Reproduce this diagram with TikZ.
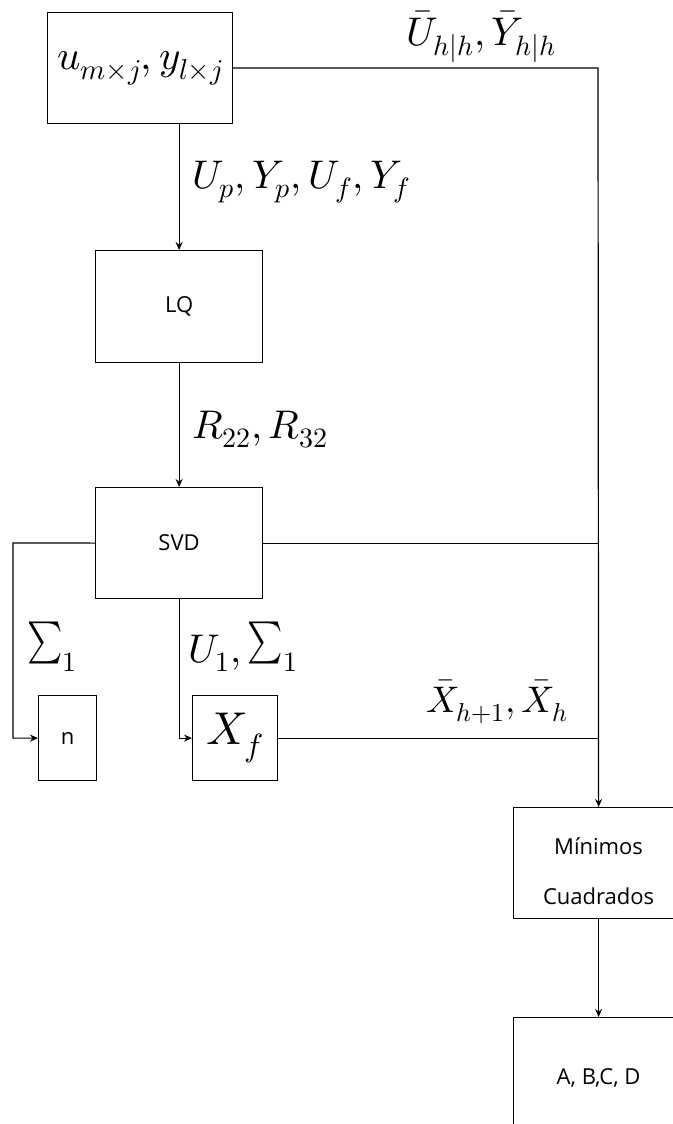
\documentclass[tikz,border=0pt]{standalone}
\usepackage{fontspec}
\usepackage{unicode-math}
\usepackage{graphicx}
\setmathfont{Latin Modern Math}
\setsansfont{Open Sans}
\usetikzlibrary{arrows.meta}
\newcommand{\mysum}{\mathop{\raisebox{9pt}{\scalebox{0.8}[1]{\fontsize{42}{42}\selectfont$\sum$}}}\nolimits}
\begin{document}
\begin{tikzpicture}[x=1pt,y=-1pt,
  box/.style={draw, line width=1.2pt, rectangle, inner sep=0pt, anchor=north west},
  lbl/.style={font=\sffamily\fontsize{22}{26}\selectfont},
  mlbl/.style={font=\fontsize{40}{44}\selectfont, inner sep=0pt, anchor=base west},
  conn/.style={line width=1.2pt},
  arr/.style={conn, -{Stealth[length=8pt,width=7pt]}}]
\useasboundingbox (0,0) rectangle (672,1124);
\node[box, minimum width=185pt, minimum height=111pt, font=\fontsize{41}{46}\selectfont] (in) at (47,12) {$u_{m\times j}, y_{l\times j}$};
\node[box, minimum width=167pt, minimum height=112pt, lbl] (lq) at (95,250) {LQ};
\node[box, minimum width=167pt, minimum height=111pt, lbl] (svd) at (95,487) {SVD};
\node[box, minimum width=58pt, minimum height=85pt, lbl] (n) at (38,695) {n};
\node[box, minimum width=85pt, minimum height=85pt, font=\fontsize{46}{50}\selectfont] (xf) at (192,695) {$X_f$};
\node[box, minimum width=170pt, minimum height=111pt] (mc) at (513,807) {};
\node[font=\sffamily\fontsize{22}{50}\selectfont, align=center, inner sep=0pt] (mct) at ([yshift=-8pt]mc.center) {Mínimos\\Cuadrados};
\node[box, minimum width=170pt, minimum height=120pt, lbl] (abcd) at (513,1017) {A, B,C, D};
\coordinate (jr) at (598,68);
\coordinate (sl) at (13,543);
\draw[arr] (in.east) -- (jr) -- (mc.north);
\draw[arr] (in.south -| lq.north) -- (lq.north);
\draw[arr] (lq.south) -- (svd.north);
\draw[conn] (svd.east) -- (svd.east -| jr);
\draw[conn] (xf.east) -- (xf.east -| jr);
\draw[arr] (svd.west) -- (sl) |- (n.west);
\draw[arr] (svd.south) |- (xf.west);
\draw[arr] (mc.south) -- (abcd.north);
\node[mlbl] (l1) at (406,46) {$\bar{U}_{h|h}, \bar{Y}_{h|h}$};
\node[mlbl] (l2) at (192,188) {$U_p, Y_p, U_f, Y_f$};
\node[mlbl] (l3) at (192,438) {$R_{22}, R_{32}$};
\node[mlbl] (l4) at (27,662) {$\mysum_1$};
\node[mlbl] (l5) at (188,662) {$U_1, \mysum_1$};
\node[mlbl, font=\fontsize{37}{40}\selectfont] (l6) at (426,712) {$\bar{X}_{h+1}, \bar{X}_h$};
\end{tikzpicture}
\end{document}
